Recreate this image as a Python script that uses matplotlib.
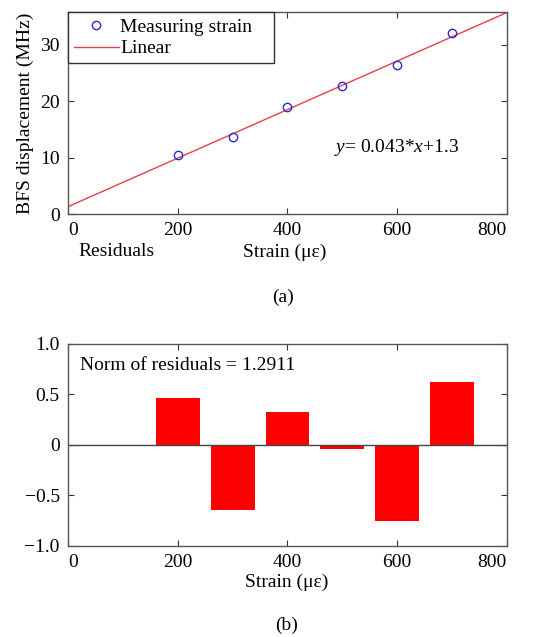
import matplotlib.pyplot as plt
import numpy as np

plt.rcParams['font.family'] = ['Liberation Serif', 'DejaVu Serif']
plt.rcParams['mathtext.fontset'] = 'custom'
plt.rcParams['mathtext.it'] = 'Liberation Serif:italic'
plt.rcParams['mathtext.rm'] = 'Liberation Serif'

strain = [200, 300, 400, 500, 600, 700]
bfs = [10.4, 13.6, 18.9, 22.7, 26.4, 32.1]
residuals = [0.47, -0.64, 0.33, -0.04, -0.75, 0.62]
slope, intercept = 0.043, 1.3
x_ticks = [0, 200, 400, 600, 800]

fig = plt.figure(figsize=(5.37, 6.37), dpi=100)
ax1 = fig.add_axes([0.1266, 0.664, 0.8174, 0.3164])
ax2 = fig.add_axes([0.1266, 0.1429, 0.8174, 0.3171])

xs = np.array([0, 800])
ax1.plot(xs, slope * xs + intercept, '-', color='#e8404a', linewidth=1.0, label='Linear')
ax1.plot(strain, bfs, 'o', markerfacecolor='none', markeredgecolor='#2b2bd0',
         markersize=6, markeredgewidth=1.0, label='Measuring strain')
ax1.set_xlim(0, 800)
ax1.set_ylim(0, 35.7)
ax1.set_xticks(x_ticks)
ax1.set_yticks([0, 10, 20, 30])
ax1.set_ylabel('BFS displacement (MHz)', fontsize=14, labelpad=4)
handles, labels = ax1.get_legend_handles_labels()
ax1.legend(handles[::-1], labels[::-1], loc='upper left', fontsize=14, frameon=True,
           fancybox=False, edgecolor='#333333', borderaxespad=0,
           bbox_to_anchor=(0, 1, 0.469, 0), mode='expand', handlelength=2.3,
           handletextpad=0.1, borderpad=0.3, labelspacing=0.2, framealpha=1)
ax1.text(484, 11.8, r'$y$= 0.043*$x$+1.3', fontsize=14, va='center', ha='left')

ax2.bar(strain, residuals, width=80, color='#ff0000')
ax2.axhline(0, color='#444444', linewidth=1.0)
ax2.set_xlim(0, 800)
ax2.set_ylim(-1.0, 1.0)
ax2.set_xticks(x_ticks)
ax2.set_yticks([-1.0, -0.5, 0, 0.5, 1.0])
ax2.set_yticklabels(['\u22121.0', '\u22120.5', '0', '0.5', '1.0'])
ax2.text(21, 0.79, 'Norm of residuals = 1.2911', fontsize=14, va='center', ha='left')

for ax in (ax1, ax2):
    ax.tick_params(direction='in', length=4, width=0.8, labelsize=14,
                   top=True, right=True, colors='#333333', labelcolor='black', pad=6)
    for s in ax.spines.values():
        s.set_color('#555555')
        s.set_linewidth(1.0)
    tl = ax.get_xticklabels()
    tl[0].set_horizontalalignment('left')
    tl[-1].set_horizontalalignment('right')

fig.text(78 / 537, 1 - 252 / 637, 'Residuals', fontsize=14, ha='left', va='center')
fig.text(285 / 537, 1 - 252 / 637, 'Strain (\u03bc\u03b5)', fontsize=14, ha='center', va='center')
fig.text(283 / 537, 1 - 297 / 637, '(a)', fontsize=14, ha='center', va='center')
fig.text(287 / 537, 1 - 582 / 637, 'Strain (\u03bc\u03b5)', fontsize=14, ha='center', va='center')
fig.text(287 / 537, 1 - 625 / 637, '(b)', fontsize=14, ha='center', va='center')

plt.savefig('out.png', dpi=100)
